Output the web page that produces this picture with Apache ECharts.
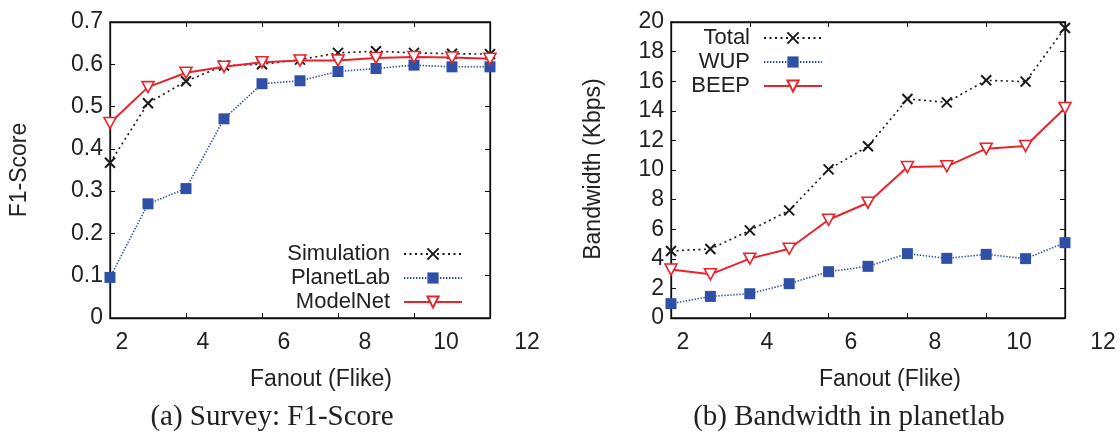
<!DOCTYPE html>
<html>
<head>
<meta charset="utf-8">
<script src="https://cdn.jsdelivr.net/npm/echarts@6/dist/echarts.min.js"></script>
<style>
html,body{margin:0;padding:0;background:#fff;}
#chart{width:1120px;height:435px;}
</style>
</head>
<body>
<div id="chart"></div>
<script>
// ---- data ----
const fanout = [2, 3, 4, 5, 6, 7, 8, 9, 10, 11, 12];
const simulation = [0.367, 0.508, 0.560, 0.597, 0.600, 0.611, 0.627, 0.631, 0.627, 0.625, 0.624];
const planetLab  = [0.096, 0.270, 0.306, 0.471, 0.554, 0.561, 0.583, 0.590, 0.598, 0.594, 0.594];
const modelNet   = [0.461, 0.546, 0.580, 0.594, 0.605, 0.609, 0.609, 0.615, 0.617, 0.616, 0.613];
const total = [4.53, 4.66, 5.92, 7.27, 10.04, 11.6, 14.8, 14.57, 16.06, 15.97, 19.6];
const wup   = [0.97, 1.46, 1.64, 2.32, 3.13, 3.49, 4.35, 4.03, 4.30, 4.01, 5.09];
const beep  = [3.27, 2.95, 4.01, 4.68, 6.64, 7.79, 10.2, 10.25, 11.44, 11.62, 14.19];
const xTicks = [2, 4, 6, 8, 10, 12];
const f1Ticks = [0, 0.1, 0.2, 0.3, 0.4, 0.5, 0.6, 0.7];
const bwTicks = [0, 2, 4, 6, 8, 10, 12, 14, 16, 18, 20];
const leftNames = ['Simulation', 'PlanetLab', 'ModelNet'];
const rightNames = ['Total', 'WUP', 'BEEP'];
const texts = {
  yLeft: 'F1-Score', yRight: 'Bandwidth (Kbps)', x: 'Fanout (Flike)',
  capLeft: '(a) Survey: F1-Score', capRight: '(b) Bandwidth in planetlab'
};

// ---- styles ----
const SANS = 'Liberation Sans, Arial, sans-serif';
const SERIF = 'Liberation Serif, Times New Roman, serif';
const TXT = '#222';
const BLACK = '#1a1a1a', BLUE = '#3050a8', RED = '#e8232b';
const CROSS = 'path://M0,0L10,10M0,10L10,0';
const DTRI = 'path://M0,0L10,0L5,9Z';

const zip = (xs, ys) => xs.map((x, i) => [x, ys[i]]);

function frameAxes(gridIndex, pos, type, min, max, interval, showLabel) {
  return {
    type: 'value', gridIndex, position: pos, min, max, interval,
    axisLine: { show: true, onZero: false, lineStyle: { color: '#111', width: 1.3 } },
    axisTick: { show: true, inside: true, length: 5, lineStyle: { color: '#111', width: 1 } },
    axisLabel: { show: showLabel, fontSize: 23, fontFamily: SANS, color: TXT, margin: 7,
      formatter: v => (type === 'f1' ? (v === 0 ? '0' : v.toFixed(1)) : String(v)) },
    splitLine: { show: false }
  };
}
function labelX(gridIndex) {
  return {
    type: 'value', gridIndex, position: 'bottom', min: 2, max: 12, interval: 2,
    axisLine: { show: false }, axisTick: { show: false }, splitLine: { show: false },
    axisLabel: { show: true, fontSize: 23, fontFamily: SANS, color: TXT, margin: 13,
      formatter: v => (xTicks.indexOf(v) >= 0 ? String(v) : '') }
  };
}
function hiddenY(gridIndex) {
  return { type: 'value', gridIndex, show: false, min: 0, max: 1 };
}

function series(name, x, y, yIdx, kind) {
  const base = { name, type: 'line', xAxisIndex: x, yAxisIndex: yIdx, data: null, z: 3 };
  if (kind === 'black') {
    return Object.assign(base, {
      symbol: CROSS, symbolSize: 10,
      itemStyle: { color: BLACK, borderColor: BLACK, borderWidth: 2 },
      lineStyle: { color: BLACK, width: 1.6, type: [2, 3.5] }
    });
  }
  if (kind === 'blue') {
    return Object.assign(base, {
      symbol: 'rect', symbolSize: 11,
      itemStyle: { color: BLUE, borderWidth: 0 },
      lineStyle: { color: BLUE, width: 1.6, type: [1.4, 1.6] }
    });
  }
  return Object.assign(base, {
    symbol: DTRI, symbolSize: [12, 11], z: 4,
    itemStyle: { color: '#fff', borderColor: RED, borderWidth: 1.6 },
    lineStyle: { color: RED, width: 2, type: 'solid' }
  });
}

const sL = series(leftNames[0], 0, 0, 0, 'black'); sL.data = zip(fanout, simulation);
const pL = series(leftNames[1], 0, 0, 0, 'blue');  pL.data = zip(fanout, planetLab);
const mL = series(leftNames[2], 0, 0, 0, 'red');   mL.data = zip(fanout, modelNet);
const tR = series(rightNames[0], 2, 2, 2, 'black'); tR.data = zip(fanout, total);
const wR = series(rightNames[1], 2, 2, 2, 'blue');  wR.data = zip(fanout, wup);
const bR = series(rightNames[2], 2, 2, 2, 'red');   bR.data = zip(fanout, beep);

function legendOne(name, right, top) {
  return {
    data: [name], orient: 'vertical', right, top, align: 'right',
    itemWidth: 58, itemHeight: 14, padding: 0, selectedMode: false,
    textStyle: { fontSize: 22, fontFamily: SANS, color: TXT, padding: [0, 9, 0, 0], lineHeight: 24 }
  };
}

const option = {
  animation: false,
  backgroundColor: '#fff',
  grid: [
    { left: 110, top: 22, width: 380, height: 296, show: true, borderColor: '#111', borderWidth: 1.3, backgroundColor: 'transparent' },
    { left: 671, top: 22, width: 394, height: 296, show: true, borderColor: '#111', borderWidth: 1.3, backgroundColor: 'transparent' },
    { left: 122, top: 22, width: 405, height: 296 },
    { left: 683, top: 22, width: 420, height: 296 }
  ],
  xAxis: [
    frameAxes(0, 'bottom', 'x', 2, 12, 2, false),
    frameAxes(0, 'top', 'x', 2, 12, 2, false),
    frameAxes(1, 'bottom', 'x', 2, 12, 2, false),
    frameAxes(1, 'top', 'x', 2, 12, 2, false),
    labelX(2),
    labelX(3)
  ],
  yAxis: [
    frameAxes(0, 'left', 'f1', 0, 0.7, 0.1, true),
    frameAxes(0, 'right', 'f1', 0, 0.7, 0.1, false),
    frameAxes(1, 'left', 'bw', 0, 20, 2, true),
    frameAxes(1, 'right', 'bw', 0, 20, 2, false),
    hiddenY(2),
    hiddenY(3)
  ],
  legend: [
    legendOne(leftNames[0], 657, 242),
    legendOne(leftNames[1], 657, 266),
    legendOne(leftNames[2], 657, 290),
    legendOne(rightNames[0], 297, 26),
    legendOne(rightNames[1], 297, 50),
    legendOne(rightNames[2], 297, 74)
  ],
  series: [sL, pL, mL, tR, wR, bR],
  graphic: [
    { type: 'text', x: 20, y: 170, rotation: Math.PI / 2,
      style: { text: texts.yLeft, font: '23px ' + SANS, fill: TXT, textAlign: 'center', textVerticalAlign: 'middle' } },
    { type: 'text', x: 594, y: 169, rotation: Math.PI / 2,
      style: { text: texts.yRight, font: '23px ' + SANS, fill: TXT, textAlign: 'center', textVerticalAlign: 'middle' } },
    { type: 'text', x: 321, y: 380,
      style: { text: texts.x, font: '23px ' + SANS, fill: TXT, textAlign: 'center', textVerticalAlign: 'middle' } },
    { type: 'text', x: 890, y: 380,
      style: { text: texts.x, font: '23px ' + SANS, fill: TXT, textAlign: 'center', textVerticalAlign: 'middle' } },
    { type: 'text', x: 272, y: 417,
      style: { text: texts.capLeft, font: '29px ' + SERIF, fill: TXT, textAlign: 'center', textVerticalAlign: 'middle' } },
    { type: 'text', x: 849, y: 417,
      style: { text: texts.capRight, font: '29px ' + SERIF, fill: TXT, textAlign: 'center', textVerticalAlign: 'middle' } }
  ]
};

const chart = echarts.init(document.getElementById('chart'), null, { renderer: 'canvas' });
chart.setOption(option);
</script>
</body>
</html>
